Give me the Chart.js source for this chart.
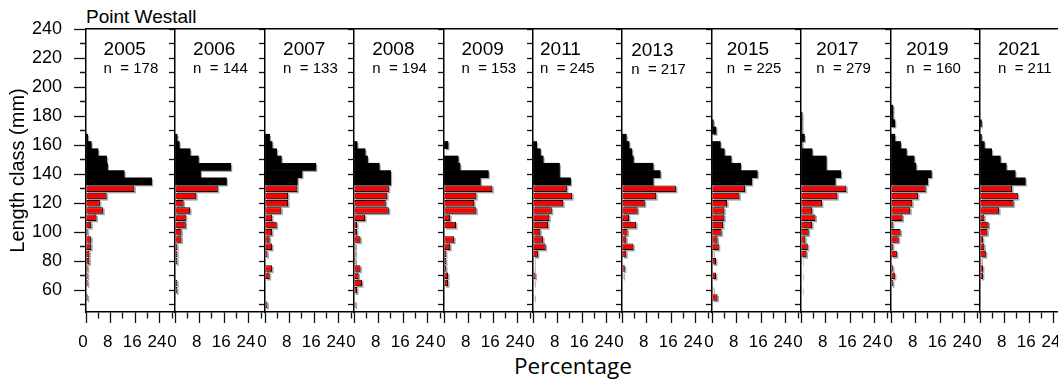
<!DOCTYPE html>
<html>
<head>
<meta charset="utf-8">
<script src="https://cdn.jsdelivr.net/npm/chart.js@4.4.1/dist/chart.umd.min.js"></script>
<style>
  html, body { margin: 0; padding: 0; background: #fff; }
  body { width: 1058px; height: 383px; overflow: hidden; position: relative; }
  canvas { position: absolute; top: 0; }
  .figText { position: absolute; white-space: nowrap; color: #000; }
  #siteName { left: 86px; top: 6.6px; font: 19px/19px "Liberation Sans", Arial, sans-serif; }
  #xTitle { left: 573px; top: 355px; transform: translateX(-50%); font: 22.5px/22.5px "Open Sans", sans-serif; }
</style>
</head>
<body>
<div id="siteName" class="figText">Point Westall</div>
<div id="xTitle" class="figText">Percentage</div>
<script>
const fontFamily = "'Liberation Sans', Arial, sans-serif";
Chart.defaults.font.family = fontFamily;
Chart.defaults.color = "#000";

// length classes (mm), bottom to top
const lengthClasses = [50, 55, 60, 65, 70, 75, 80, 85, 90, 95, 100, 105, 110, 115,
  120, 125, 130, 135, 140, 145, 150, 155, 160, 165, 170, 175, 180, 185];
const firstBlackClass = 135;

const years = ["2005", "2006", "2007", "2008", "2009", "2011", "2013", "2015", "2017", "2019", "2021"];
const sampleSizes = [178, 144, 133, 194, 153, 245, 217, 225, 279, 160, 211];

// percentage in each length class, same order as lengthClasses
const pct2005 = [0, 0.56, 0, 0.56, 0.56, 0.56, 1.1, 1.1, 1.7, 1.7, 0.56, 1.7, 3.4, 5.6, 4.5, 6.7, 15.7, 21.3, 12.4, 7.0, 6.7, 3.9, 1.7, 0.56, 0, 0, 0, 0];
const pct2006 = [0, 0, 0.69, 0.69, 0, 0, 0.69, 0.69, 0.69, 2.1, 2.1, 3.5, 3.5, 4.9, 2.8, 6.9, 13.9, 16.7, 8.3, 18.1, 7.6, 4.9, 1.4, 0.69, 0, 0, 0, 0];
const pct2007 = [0.75, 0, 0, 0, 1.5, 2.3, 0, 0.75, 2.3, 1.5, 2.3, 3.8, 2.3, 5.3, 7.5, 7.5, 10.5, 10.5, 12.0, 16.5, 5.3, 3.8, 2.3, 1.5, 0, 0, 0, 0];
const pct2008 = [0.52, 0, 1.0, 2.6, 1.5, 2.1, 0.52, 0.52, 0.52, 2.1, 1.0, 1.0, 3.6, 11.3, 10.3, 10.8, 11.3, 11.9, 11.9, 8.2, 4.4, 3.6, 1.0, 0, 0, 0, 0, 0];
const pct2009 = [0, 0, 0, 1.3, 1.3, 0.65, 0.65, 0.65, 2.0, 3.3, 0, 3.9, 2.0, 10.5, 9.8, 10.5, 15.7, 11.8, 14.4, 5.2, 4.6, 0, 1.3, 0, 0, 0, 0, 0];
const pct2011 = [0, 0.41, 0, 0.41, 0.8, 0.41, 0.41, 1.6, 4.1, 3.3, 2.4, 4.9, 5.3, 6.1, 9.8, 12.7, 11.0, 12.2, 8.6, 8.6, 3.3, 2.4, 1.2, 0, 0, 0, 0, 0];
const pct2013 = [0, 0, 0, 0, 0.46, 0.9, 0, 1.4, 3.7, 1.4, 1.8, 4.6, 2.3, 5.1, 7.4, 11.1, 17.5, 10.1, 12.4, 10.1, 3.7, 3.2, 2.3, 1.4, 0, 0, 0, 0];
const pct2015 = [0, 1.8, 0.44, 0, 1.3, 0, 1.3, 0.44, 2.2, 1.8, 3.1, 3.6, 4.0, 4.0, 4.9, 8.9, 10.7, 12.9, 14.7, 9.3, 6.2, 4.0, 2.7, 0, 1.3, 0.44, 0, 0];
const pct2017 = [0, 0, 0.36, 0, 0.36, 0, 0.36, 1.8, 2.2, 1.4, 2.5, 3.6, 4.7, 3.6, 6.8, 11.8, 14.7, 11.1, 12.9, 8.2, 8.2, 3.6, 0.36, 1.1, 0.36, 0.36, 0.36, 0];
const pct2019 = [0, 0, 0, 0.63, 1.25, 0.63, 0, 1.9, 0.63, 2.5, 3.1, 0.63, 3.75, 6.25, 6.9, 8.75, 11.25, 11.9, 13.1, 8.1, 7.5, 5.0, 3.1, 1.25, 0, 1.25, 0.63, 0.63];
const pct2021 = [0, 0, 0, 0, 0.95, 0.95, 0.47, 1.9, 1.4, 0.95, 2.4, 2.8, 1.4, 6.2, 10.9, 12.3, 10.4, 14.7, 11.4, 8.5, 6.6, 3.8, 1.4, 0.47, 0, 0.47, 0, 0];
const percentByYear = [pct2005, pct2006, pct2007, pct2008, pct2009, pct2011, pct2013, pct2015, pct2017, pct2019, pct2021];

const lengthTickLabels = [60, 80, 100, 120, 140, 160, 180, 200, 220, 240];
const percentTickLabels = [0, 8, 16, 24];

// layout
const panelLeft0 = 85.7;
const panelStep = 89.46;
const pxPerPercent = 3.08;
const chartTop = 29;
const xAxisHeight = 71;
const labelOffsets = [17.6, 18.1, 18.1, 18.2, 17.5, 7, 9.2, 14.8, 15.3, 15.2, 18];
const labelDrops = [0, 0, 0, 0, 0, 0, 1.3, 0, 0, 0, 0];

const panelLefts = years.map((_, k) => Math.round(panelLeft0 + panelStep * k));

const barShadow = {
  id: "barShadow",
  beforeDatasetDraw(chart, args) {
    const ctx = chart.ctx;
    ctx.save();
    ctx.fillStyle = "rgba(0, 0, 0, 0.35)";
    args.meta.data.forEach((bar) => {
      const { x, y, base, height } = bar.getProps(["x", "y", "base", "height"], true);
      ctx.fillRect(Math.min(x, base) + 1.5, y - height / 2 + 1.5, Math.abs(x - base), height);
    });
    ctx.restore();
  },
};

const panelLabels = {
  id: "panelLabels",
  afterDraw(chart, args, opts) {
    const { ctx, chartArea } = chart;
    const k = opts.index;
    const x = chartArea.left + labelOffsets[k];
    ctx.save();
    ctx.fillStyle = "#000";
    ctx.textAlign = "left";
    ctx.textBaseline = "alphabetic";
    ctx.font = `19px ${fontFamily}`;
    ctx.fillText(years[k], x, 55 + labelDrops[k]);
    ctx.font = `15px ${fontFamily}`;
    ctx.fillText(`n  = ${sampleSizes[k]}`, x, 72.7 + labelDrops[k]);
    ctx.restore();
  },
};

function makePanel(k) {
  const first = k === 0;
  const left = panelLefts[k];
  const width = (k < years.length - 1 ? panelLefts[k + 1] : left + 90) - left;
  const axisWidth = first ? left : 8;

  const canvas = document.createElement("canvas");
  canvas.width = axisWidth + width;
  canvas.height = 383;
  canvas.style.left = left - axisWidth + "px";
  document.body.appendChild(canvas);

  const black = [];
  const red = [];
  percentByYear[k].forEach((value, i) => {
    if (!value) {
      return;
    }
    const point = { x: value, y: lengthClasses[i] };
    (lengthClasses[i] >= firstBlackClass ? black : red).push(point);
  });

  const yTickLength = first ? 12 : 6;

  new Chart(canvas, {
    type: "bar",
    data: {
      datasets: [
        {
          data: black,
          backgroundColor: "#000",
          borderWidth: 0,
          barPercentage: 1,
          categoryPercentage: 1,
          grouped: false,
        },
        {
          data: red,
          backgroundColor: "#ff0000",
          borderColor: "#000",
          borderWidth: 1,
          barPercentage: 0.9,
          categoryPercentage: 1,
          grouped: false,
        },
      ],
    },
    options: {
      indexAxis: "y",
      responsive: false,
      animation: false,
      devicePixelRatio: 1,
      layout: { padding: { top: chartTop, left: 0, right: 0, bottom: 0 } },
      plugins: {
        legend: { display: false },
        tooltip: { enabled: false },
        panelLabels: { index: k },
      },
      scales: {
        x: {
          type: "linear",
          position: "bottom",
          min: 0,
          max: width / pxPerPercent,
          border: { color: "#000", width: 1.5 },
          grid: {
            drawOnChartArea: false,
            tickLength: 11,
            tickColor: "#111",
            tickWidth: 1.3,
            tickBorderDash: (c) => (c.tick && percentTickLabels.includes(c.tick.value) ? [] : [6, 100]),
          },
          ticks: {
            stepSize: 4,
            includeBounds: false,
            autoSkip: false,
            maxRotation: 0,
            padding: 9,
            labelOffset: -3,
            font: { size: 17 },
            callback: (v) => (percentTickLabels.includes(v) ? String(v) : ""),
          },
          afterFit: (s) => {
            s.height = xAxisHeight;
            s.paddingLeft = 0;
            s.paddingRight = 0;
          },
        },
        xTop: {
          type: "linear",
          position: "top",
          min: 0,
          max: 1,
          border: { color: "#000", width: 1.5 },
          grid: { drawOnChartArea: false, drawTicks: false },
          ticks: { display: false },
          afterFit: (s) => {
            s.height = 0;
            s.paddingLeft = 0;
            s.paddingRight = 0;
          },
        },
        y: {
          type: "linear",
          position: "left",
          min: 45,
          max: 240,
          offset: false,
          border: { color: "#000", width: 1.5 },
          grid: {
            offset: false,
            drawOnChartArea: false,
            tickLength: yTickLength,
            tickColor: "#111",
            tickWidth: 1.3,
            tickBorderDash: (c) =>
              first && c.tick && !lengthTickLabels.includes(c.tick.value) ? [0, 6, 6, 100] : [],
          },
          ticks: {
            display: first,
            stepSize: 10,
            includeBounds: false,
            autoSkip: false,
            padding: 12,
            font: { size: 18 },
            callback: (v) => (lengthTickLabels.includes(v) ? String(v) : ""),
          },
          title: {
            display: first,
            text: "Length class (mm)",
            font: { size: 20 },
            padding: { top: 6, bottom: 0 },
          },
          afterFit: (s) => {
            s.width = axisWidth;
            s.paddingTop = 0;
            s.paddingBottom = 0;
          },
        },
      },
    },
    plugins: [barShadow, panelLabels],
  });
}

years.forEach((_, k) => makePanel(k));
</script>
</body>
</html>
